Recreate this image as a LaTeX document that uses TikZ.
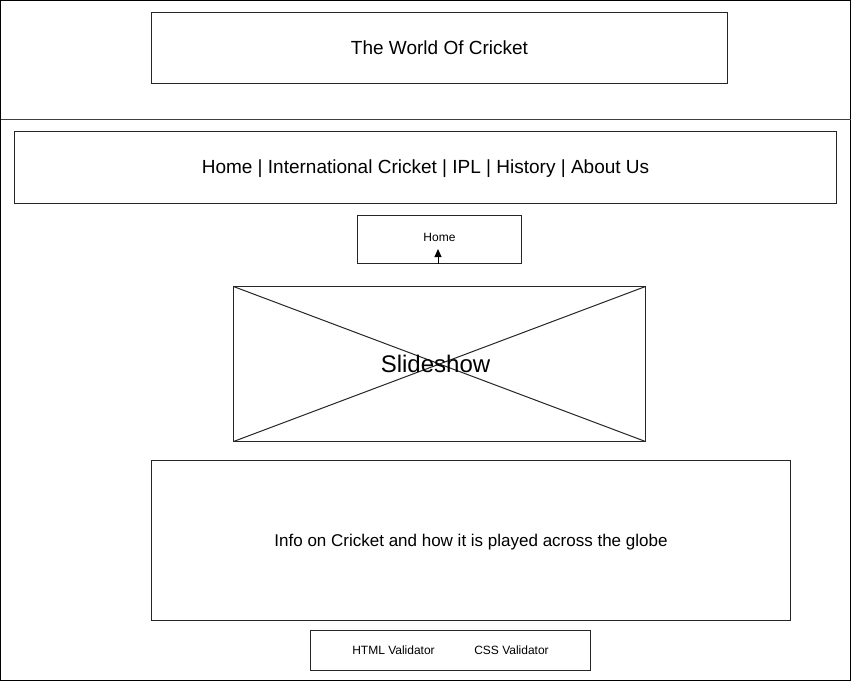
\documentclass[tikz,border=0pt]{standalone}
\usepackage{fontspec}
\setmainfont{Liberation Sans}
\usetikzlibrary{arrows.meta}
\begin{document}
\begin{tikzpicture}[x=1pt,y=-1pt,
  box/.style={draw=black!85,line width=1pt,inner sep=0pt,outer sep=0pt,anchor=north west},
  lbl/.style={inner sep=0pt,text=black}]
\useasboundingbox (0,0) rectangle (852,681);
\fill[white] (0,0) rectangle (852,681);
% outer frame and divider
\draw[line width=1pt,black] (0.5,0.5) rectangle (850.5,680.5);
\coordinate (dl) at (0.5,119.5);
\coordinate (dr) at (850.5,119.5);
\draw[line width=1pt,black!75] (dl) -- (dr);
% title
\node[box,minimum width=576pt,minimum height=71pt] (title) at (151.5,12.5) {};
\node[lbl,font=\fontsize{19}{21}\selectfont] at (title.center) {The World Of Cricket};
% nav
\node[box,minimum width=822pt,minimum height=72pt] (nav) at (14.5,131.5) {};
\node[lbl,font=\fontsize{19}{21}\selectfont] at ([yshift=-1.5pt]nav.center) {Home | International Cricket | IPL | History | About Us};
% home
\node[box,minimum width=164pt,minimum height=48pt] (home) at (357.5,215.5) {};
\node[lbl,font=\fontsize{12}{14}\selectfont] (hometext) at ([yshift=2pt]home.center) {Home};
\coordinate (arrtip) at (438,249);
\draw[line width=1pt,-{Triangle[length=8pt,width=7pt]}] (home.south -| arrtip) -- (arrtip);
% slideshow
\node[box,minimum width=412pt,minimum height=155pt] (slide) at (233.5,286.5) {};
\draw[line width=1pt,black!85] (slide.north west) -- (slide.south east);
\draw[line width=1pt,black!85] (slide.south west) -- (slide.north east);
\node[lbl,font=\fontsize{24}{26}\selectfont] at ([xshift=-4pt]slide.center) {Slideshow};
% info
\node[box,minimum width=639pt,minimum height=160pt] (info) at (151.5,460.5) {};
\node[lbl,font=\fontsize{17}{19}\selectfont] at ([yshift=-2pt]info.center) {Info on Cricket and how it is played across the globe};
% validators
\node[box,minimum width=280pt,minimum height=40pt] (valid) at (310.5,630.5) {};
\node[lbl,font=\fontsize{12}{14}\selectfont] at ([xshift=-57pt]valid.center) {HTML Validator};
\node[lbl,font=\fontsize{12}{14}\selectfont] at ([xshift=61pt]valid.center) {CSS Validator};
\end{tikzpicture}
\end{document}
